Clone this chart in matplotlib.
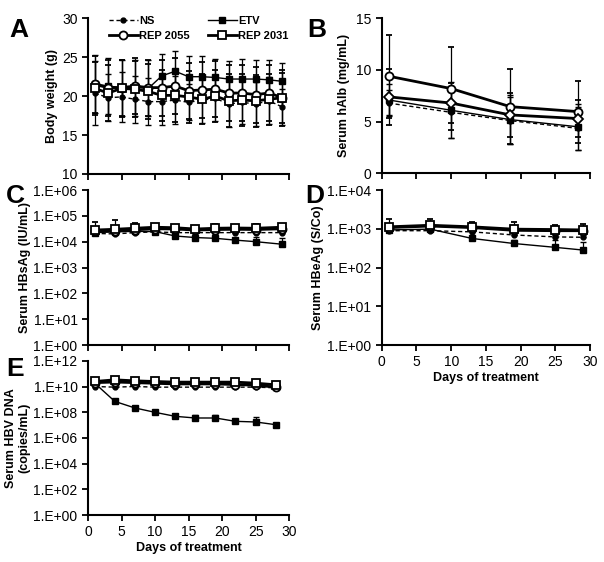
import numpy as np
import matplotlib
matplotlib.use('Agg')
import matplotlib.pyplot as plt
from matplotlib.ticker import FuncFormatter, FixedLocator, NullLocator

plt.rcParams['font.family'] = ['Liberation Sans', 'DejaVu Sans']
plt.rcParams['font.size'] = 10

# ---- data ----
# A: body weight (g)
days_a = [1, 3, 5, 7, 9, 11, 13, 15, 17, 19, 21, 23, 25, 27, 29]
bw_ns = [20.4, 19.8, 19.9, 19.6, 19.3, 19.3, 19.5, 19.2, 19.5, 19.7, 19.0, 19.2, 19.0, 19.4, 18.6]
bw_etv = [21.6, 21.3, 21.1, 21.1, 21.0, 22.6, 23.2, 22.5, 22.5, 22.4, 22.2, 22.2, 22.2, 22.1, 21.9]
bw_2055 = [21.5, 21.1, 21.1, 21.3, 21.1, 21.1, 21.3, 20.7, 20.8, 20.9, 20.4, 20.4, 20.2, 20.4, 19.8]
bw_2031 = [21.0, 20.4, 21.0, 20.9, 20.6, 20.1, 20.1, 19.9, 19.6, 20.0, 19.4, 19.5, 19.4, 19.6, 19.8]
bw_ns_sd = [4.1, 3.0, 3.2, 3.0, 3.0, 3.0, 3.1, 2.3, 3.0, 2.9, 3.0, 2.8, 2.8, 3.0, 2.3]
bw_etv_sd = [3.7, 3.6, 3.6, 3.6, 3.6, 2.8, 2.6, 2.6, 2.7, 2.4, 2.3, 2.6, 2.5, 2.6, 2.3]
bw_2055_sd = [3.7, 3.6, 3.6, 3.6, 3.6, 3.6, 3.6, 3.6, 3.6, 3.6, 3.6, 3.6, 3.6, 3.6, 3.6]
bw_2031_sd = [3.4, 3.6, 3.7, 3.6, 3.5, 3.3, 3.4, 3.3, 3.2, 3.3, 3.4, 3.3, 3.3, 3.3, 3.2]

# B: serum hAlb (mg/mL)
days_b = [1, 10, 18.5, 28.3]
alb_ns = [6.8, 5.9, 5.1, 4.35]
alb_etv = [7.1, 6.1, 5.2, 4.5]
alb_2055 = [9.4, 8.2, 6.45, 5.97]
alb_2031 = [7.4, 6.8, 5.65, 5.3]
alb_ns_sd = [1.3, 2.5, 2.3, 2.1]
alb_etv_sd = [1.5, 2.7, 2.4, 2.2]
alb_2055_sd = [4.0, 4.0, 3.6, 3.0]
alb_2031_sd = [2.7, 1.9, 2.1, 1.8]

# C: serum HBsAg (log10 IU/mL)
days_c = [1, 4, 7, 10, 13, 16, 19, 22, 25, 29]
hbs_ns = [4.32, 4.30, 4.35, 4.38, 4.35, 4.35, 4.35, 4.35, 4.35, 4.35]
hbs_etv = [4.35, 4.38, 4.40, 4.39, 4.22, 4.16, 4.13, 4.06, 4.00, 3.90]
hbs_2055 = [4.40, 4.42, 4.46, 4.50, 4.49, 4.45, 4.47, 4.48, 4.47, 4.50]
hbs_2031 = [4.45, 4.48, 4.52, 4.56, 4.54, 4.49, 4.52, 4.53, 4.52, 4.56]
hbs_ns_err = [0.05, 0.05, 0.05, 0.05, 0.05, 0.05, 0.10, 0.05, 0.05, 0.10]
hbs_etv_err = [0.05, 0.05, 0.05, 0.05, 0.05, 0.05, 0.10, 0.10, 0.20, 0.25]
hbs_2055_err = [0.15, 0.15, 0.15, 0.10, 0.10, 0.10, 0.10, 0.10, 0.10, 0.10]
hbs_2031_err = [0.33, 0.35, 0.22, 0.12, 0.12, 0.10, 0.15, 0.12, 0.18, 0.10]

# D: serum HBeAg (log10 S/Co)
days_d = [1, 7, 13, 19, 25, 29]
hbe_ns = [2.95, 2.95, 2.92, 2.84, 2.79, 2.78]
hbe_etv = [2.97, 2.99, 2.75, 2.62, 2.52, 2.45]
hbe_2055 = [3.03, 3.07, 3.03, 2.96, 2.95, 2.95]
hbe_2031 = [3.05, 3.09, 3.05, 2.99, 2.98, 2.97]
hbe_ns_err = [0.05, 0.05, 0.10, 0.10, 0.05, 0.05]
hbe_etv_err = [0.05, 0.05, 0.20, 0.10, 0.20, 0.20]
hbe_2055_err = [0.10, 0.10, 0.10, 0.10, 0.10, 0.10]
hbe_2031_err = [0.20, 0.15, 0.13, 0.18, 0.12, 0.15]

# E: serum HBV DNA (log10 copies/mL)
days_e = [1, 4, 7, 10, 13, 16, 19, 22, 25, 28]
dna_ns = [10.0, 9.95, 10.0, 9.95, 9.95, 9.95, 9.95, 9.95, 9.95, 9.9]
dna_etv = [10.26, 8.84, 8.33, 7.99, 7.68, 7.55, 7.55, 7.29, 7.24, 7.03]
dna_2055 = [10.3, 10.35, 10.3, 10.25, 10.2, 10.2, 10.2, 10.15, 10.1, 9.95]
dna_2031 = [10.39, 10.52, 10.44, 10.39, 10.34, 10.34, 10.34, 10.34, 10.26, 10.13]
dna_ns_err = [0.05, 0.05, 0.05, 0.05, 0.05, 0.05, 0.05, 0.05, 0.05, 0.05]
dna_etv_err = [0.05, 0.15, 0.10, 0.10, 0.20, 0.20, 0.25, 0.20, 0.35, 0.05]
dna_2055_err = [0.05, 0.05, 0.05, 0.05, 0.05, 0.05, 0.05, 0.05, 0.05, 0.05]
dna_2031_err = [0.05, 0.05, 0.05, 0.05, 0.05, 0.05, 0.05, 0.05, 0.05, 0.05]

# series styles: NS, ETV, REP 2055, REP 2031
styles = [
    dict(label='NS', ls=(0, (3, 2)), lw=1.0, marker='o', ms=3.5, mfc='black', mew=1.0),
    dict(label='ETV', ls='-', lw=1.0, marker='s', ms=4.2, mfc='black', mew=1.0),
    dict(label='REP 2055', ls='-', lw=2.0, marker='o', ms=5.8, mfc='white', mew=1.3),
    dict(label='REP 2031', ls='-', lw=2.0, marker='s', ms=5.8, mfc='white', mew=1.3),
]


def style_axes(ax):
    for s in ['top', 'right']:
        ax.spines[s].set_visible(False)
    for s in ['left', 'bottom']:
        ax.spines[s].set_linewidth(1.5)
    ax.tick_params(direction='out', width=1.3, length=4, labelsize=10, colors='black')
    ax.tick_params(axis='y', which='minor', left=False)


def draw_linear(ax, x, ys, sds, st_list=styles):
    out = []
    for y, sd, st in zip(ys, sds, st_list):
        c = ax.errorbar(x, y, yerr=sd, color='black', ecolor='black', elinewidth=0.9,
                        capsize=2.5, capthick=0.9, **st)
        out.append(c)
    return out


def draw_log(ax, x, ys, errs, st_list=styles):
    for y, e, st in zip(ys, errs, st_list):
        y = np.array(y)
        e = np.array(e)
        v = 10 ** y
        up = 10 ** (y + e) - v
        ax.errorbar(x, v, yerr=[np.zeros_like(v), up], color='black', ecolor='black',
                    elinewidth=0.9, capsize=2.5, capthick=0.9, **st)


def log_fmt(v, p):
    return '1.E+%02d' % int(round(np.log10(v)))


def log_axis(ax, top, step=1):
    ax.set_yscale('log')
    ax.set_ylim(1, 10 ** top)
    ax.yaxis.set_major_locator(FixedLocator([10 ** k for k in range(0, top + 1, step)]))
    ax.yaxis.set_minor_locator(NullLocator())
    ax.yaxis.set_major_formatter(FuncFormatter(log_fmt))


fig = plt.figure(figsize=(6.04, 5.62), dpi=100)

axA = fig.add_axes([0.1457, 0.6904, 0.333, 0.277])
axB = fig.add_axes([0.632, 0.6916, 0.345, 0.2758])
axC = fig.add_axes([0.1457, 0.3861, 0.333, 0.2758])
axD = fig.add_axes([0.632, 0.3861, 0.345, 0.2758])
axE = fig.add_axes([0.1457, 0.0836, 0.333, 0.2744])

ylab_kw = dict(fontweight='bold', fontsize=9)

# A
conts = draw_linear(axA, days_a, [bw_ns, bw_etv, bw_2055, bw_2031],
                    [bw_ns_sd, bw_etv_sd, bw_2055_sd, bw_2031_sd])
axA.set_xlim(0, 30)
axA.set_ylim(10, 30)
axA.set_yticks([10, 15, 20, 25, 30])
axA.set_xticks(range(0, 31, 5))
axA.set_xticklabels([])
axA.set_ylabel('Body weight (g)', labelpad=3, **ylab_kw)
order = [0, 2, 1, 3]
axA.legend([conts[i].lines[0] for i in order], [styles[i]['label'] for i in order],
           ncol=2, frameon=False,
           loc='upper left', bbox_to_anchor=(0.07, 1.06), handlelength=2.6,
           columnspacing=1.6, labelspacing=0.45, prop={'weight': 'bold', 'size': 8},
           handletextpad=0.15, borderaxespad=0.2)
style_axes(axA)

# B
stylesB = [dict(s) for s in styles]
stylesB[3]['marker'] = 'D'
stylesB[3]['ms'] = 5.2
draw_linear(axB, days_b, [alb_ns, alb_etv, alb_2055, alb_2031],
            [alb_ns_sd, alb_etv_sd, alb_2055_sd, alb_2031_sd], stylesB)
axB.set_xlim(0, 30)
axB.set_ylim(0, 15)
axB.set_yticks([0, 5, 10, 15])
axB.set_xticks(range(0, 31, 5))
axB.set_xticklabels([])
axB.set_ylabel('Serum hAlb (mg/mL)', labelpad=4, **ylab_kw)
style_axes(axB)

# C
draw_log(axC, days_c, [hbs_ns, hbs_etv, hbs_2055, hbs_2031],
         [hbs_ns_err, hbs_etv_err, hbs_2055_err, hbs_2031_err])
log_axis(axC, 6)
axC.set_xlim(0, 30)
axC.set_xticks(range(0, 31, 5))
axC.set_xticklabels([])
axC.set_ylabel('Serum HBsAg (IU/mL)', labelpad=2, **ylab_kw)
style_axes(axC)

# D
draw_log(axD, days_d, [hbe_ns, hbe_etv, hbe_2055, hbe_2031],
         [hbe_ns_err, hbe_etv_err, hbe_2055_err, hbe_2031_err])
log_axis(axD, 4)
axD.set_xlim(0, 30)
axD.set_xticks(range(0, 31, 5))
axD.set_xlabel('Days of treatment', labelpad=2, **ylab_kw)
axD.set_ylabel('Serum HBeAg (S/Co)', labelpad=2, **ylab_kw)
style_axes(axD)

# E
draw_log(axE, days_e, [dna_ns, dna_etv, dna_2055, dna_2031],
         [dna_ns_err, dna_etv_err, dna_2055_err, dna_2031_err])
log_axis(axE, 12, 2)
axE.set_xlim(0, 30)
axE.set_xticks(range(0, 31, 5))
axE.set_xlabel('Days of treatment', labelpad=2, **ylab_kw)
axE.set_ylabel('Serum HBV DNA\n(copies/mL)', labelpad=2, **ylab_kw)
style_axes(axE)

# panel letters
for lab, x, y in [('A', 0.015, 0.968), ('B', 0.508, 0.968), ('C', 0.010, 0.672),
                  ('D', 0.505, 0.672), ('E', 0.010, 0.365)]:
    fig.text(x, y, lab, fontsize=19, fontweight='bold', va='top', ha='left')

fig.savefig('out.png', dpi=100)
